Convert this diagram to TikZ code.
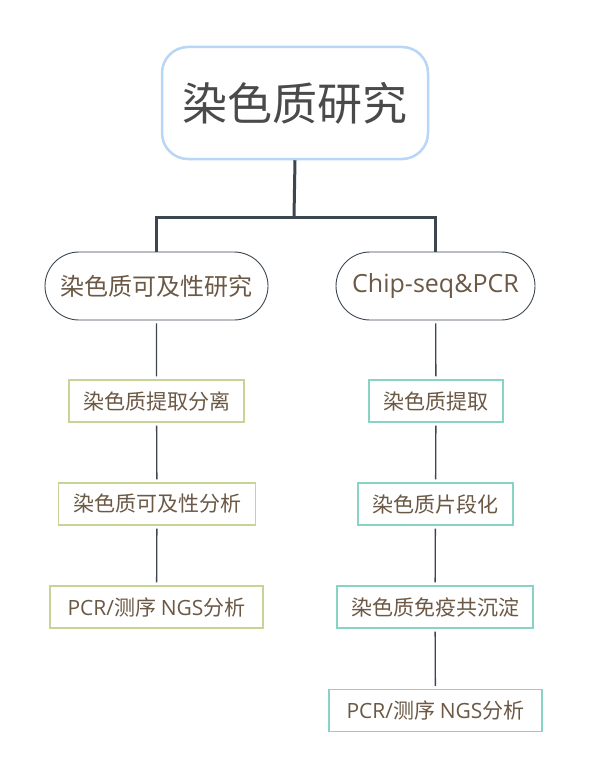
\documentclass[tikz,border=0pt]{standalone}
\usepackage{fontspec}
\setmainfont{Noto Sans CJK SC}
\newfontfamily\latinf{Open Sans}
\usetikzlibrary{shapes.misc}
\definecolor{topblue}{HTML}{B8D6F7}
\definecolor{topgray}{HTML}{4A4A4A}
\definecolor{txtbrown}{HTML}{6B5845}
\definecolor{linegray}{HTML}{3D4650}
\definecolor{olivebd}{HTML}{C8D496}
\definecolor{tealbd}{HTML}{88D2C6}
\tikzset{
  rootbox/.style={draw=topblue, line width=2.5pt, rounded corners=26pt, fill=white,
    minimum width=266pt, minimum height=112pt, inner sep=0pt, text=topgray,
    font=\fontsize{45}{48}\selectfont},
  pillbox/.style={draw=linegray, line width=0.9pt, rounded rectangle, fill=white,
    minimum height=68pt, inner sep=0pt, text=txtbrown, font=\fontsize{24}{26}\selectfont},
  leftbox/.style={draw=olivebd, line width=1.3pt, fill=white, minimum height=42pt,
    inner sep=0pt, text=txtbrown, font=\fontsize{21}{24}\selectfont},
  rightbox/.style={leftbox, draw=tealbd},
  trunk/.style={draw=linegray, line width=3pt},
  twig/.style={draw=linegray, line width=1.3pt, shorten <=3pt, shorten >=3pt}
}
\newcommand{\lat}[1]{{\latinf\fontsize{21}{24}\selectfont #1}}
\begin{document}
\begin{tikzpicture}[x=1pt,y=-1pt]
\path[fill=white] (0,0) rectangle (591,781);
\node[rootbox] (root) at (295,103) {染色质研究};
\node[pillbox, minimum width=223pt] (L) at (156.5,286) {染色质可及性研究};
\node[pillbox, minimum width=199pt, font=\fontsize{25}{26}\selectfont] (R) at (435.5,286) {\latinf Chip-seq\&PCR};
\node[leftbox, minimum width=175pt] (L1) at (156.5,401) {染色质提取分离};
\node[leftbox, minimum width=197pt] (L2) at (157,504) {染色质可及性分析};
\node[leftbox, minimum width=213pt] (L3) at (156.5,607) {\lat{PCR/}测序 \lat{NGS}分析};
\node[rightbox, minimum width=134pt] (R1) at (436,401) {染色质提取};
\node[rightbox, minimum width=155pt] (R2) at (435.5,504) {染色质片段化};
\node[rightbox, minimum width=196pt] (R3) at (435,607) {染色质免疫共沉淀};
\node[rightbox, minimum width=213pt] (R4) at (435.5,710.5) {\lat{PCR/}测序 \lat{NGS}分析};
\coordinate (bar) at (294,217);
\draw[trunk] (root.south) -- (bar);
\draw[trunk] (L.north) |- (bar) -| (R.north);
\draw[twig] (L) -- (L1);
\draw[twig] (L1) -- (L2);
\draw[twig] (L2) -- (L3);
\draw[twig] (R) -- (R1);
\draw[twig] (R1) -- (R2);
\draw[twig] (R2) -- (R3);
\draw[twig] (R3) -- (R4);
\end{tikzpicture}
\end{document}
